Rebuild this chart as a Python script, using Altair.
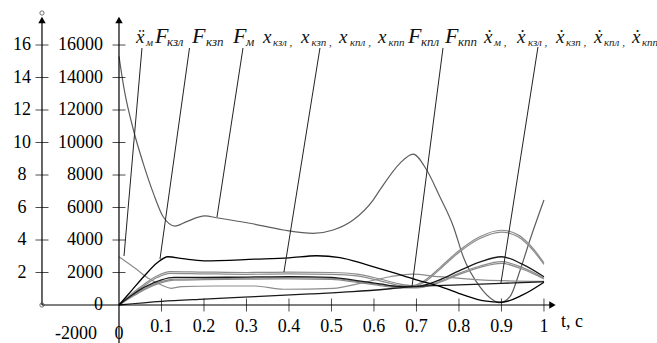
import altair as alt
import pandas as pd

# ---------------- values ----------------
# F_м (big grey curve)
T_FM = [0, 0.012, 0.034, 0.057, 0.081, 0.104, 0.132, 0.159, 0.202, 0.23, 0.308, 0.387, 0.457,
        0.504, 0.551, 0.598, 0.614, 0.661, 0.692, 0.724, 0.755, 0.787, 0.81, 0.849, 0.88, 0.896,
        0.92, 0.944, 0.967, 1.0]
V_FM = [15300, 13300, 10770, 8720, 6870, 5430, 4860, 5130, 5480, 5370, 5030, 4615, 4410,
        4615, 5230, 6460, 7080, 8720, 9290, 8310, 6665, 4820, 2970, 1130, 310, 140,
        510, 2150, 4000, 6460]
# ẍ_м (grey, starts high)
T_AM = [0, 0.038, 0.069, 0.1, 0.124, 0.147, 0.226, 0.32, 0.387, 0.504, 0.567, 0.638, 0.69,
        0.75, 0.85, 0.9, 1.0]
V_AM = [2970, 2260, 1640, 1230, 1030, 1130, 1170, 1170, 970, 1030, 1335, 1740, 1900,
        1750, 1550, 1500, 1450]
# F_кзл (bold black)
T_KZL = [0, 0.03, 0.06, 0.09, 0.115, 0.15, 0.2, 0.32, 0.4, 0.465, 0.52, 0.58, 0.638, 0.7,
         0.76, 0.81, 0.86, 0.9, 0.95, 1.0]
V_KZL = [0, 900, 1800, 2600, 2970, 2850, 2720, 2820, 2900, 3030, 2920, 2500, 2050, 1550,
         1100, 620, 250, 170, 620, 1400]
# F_кпл, F_кпп (double grey)
T_KP = [0, 0.03, 0.06, 0.09, 0.12, 0.2, 0.3, 0.4, 0.5, 0.56, 0.614, 0.66, 0.692, 0.724,
        0.755, 0.802, 0.849, 0.9, 0.94, 0.967, 1.0]
V_KPL = [0, 700, 1300, 1800, 2060, 2030, 2000, 2030, 2000, 1900, 1600, 1300, 1200, 1600,
         2300, 3385, 4200, 4600, 4300, 3690, 2600]
V_KPP = [0, 620, 1200, 1690, 1950, 1920, 1890, 1920, 1890, 1790, 1490, 1200, 1110, 1500,
         2200, 3280, 4090, 4490, 4190, 3580, 2500]
# x_кзл, x_кзп, x_кпл
T_X = [0, 0.03, 0.06, 0.1, 0.13, 0.2, 0.3, 0.4, 0.5, 0.56, 0.614, 0.66, 0.7, 0.75, 0.8,
       0.85, 0.9, 0.95, 1.0]
V_X1 = [0, 600, 1100, 1550, 1700, 1700, 1720, 1750, 1700, 1500, 1300, 1150, 1150, 1500,
        2100, 2650, 2970, 2500, 1740]
V_X2 = [0, 550, 1000, 1450, 1600, 1620, 1650, 1680, 1640, 1450, 1250, 1100, 1080, 1400,
        1950, 2400, 2665, 2300, 1650]
V_X3 = [0, 500, 950, 1380, 1530, 1560, 1590, 1610, 1580, 1400, 1200, 1060, 1050, 1350,
        1880, 2320, 2565, 2200, 1600]
# bottom black line
T_B = [0, 0.1, 0.2, 0.32, 0.45, 0.55, 0.638, 0.692, 0.8, 0.9, 1.0]
V_B = [0, 220, 360, 510, 680, 820, 1000, 1130, 1240, 1335, 1435]

SERIES = [
    ("F_м", T_FM, V_FM), ("ẍ_м", T_AM, V_AM), ("F_кпл", T_KP, V_KPL), ("F_кпп", T_KP, V_KPP),
    ("x_кзп", T_X, V_X2), ("x_кпл", T_X, V_X3), ("x_кзл", T_X, V_X1), ("ẋ", T_B, V_B),
    ("F_кзл", T_KZL, V_KZL),
]
S_COLORS = ["#5e5e5e", "#8c8c8c", "#8c8c8c", "#8c8c8c", "#8c8c8c", "#8c8c8c", "#1a1a1a", "#1a1a1a", "#000000"]
S_WIDTHS = [1.2, 1.3, 1.3, 1.3, 1.4, 1.4, 1.4, 1.2, 2.3]

# axes
Y_LABEL_VALUES = [-2000, 0, 2000, 4000, 6000, 8000, 10000, 12000, 14000, 16000]
Y_TICK_VALUES = [2000, 4000, 6000, 8000, 10000, 12000, 14000, 16000]
OUT_LABELS = [2, 4, 6, 8, 10, 12, 14, 16]
X_TICKS = [0.1, 0.2, 0.3, 0.4, 0.5, 0.6, 0.7, 0.8, 0.9, 1.0]
X_LABELS = ["0.1", "0.2", "0.3", "0.4", "0.5", "0.6", "0.7", "0.8", "0.9", "1"]

# legend labels
LEG_MAIN = ["x\u0308", "F", "F", "F", "x", "x", "x", "x", "F", "F",
            "x\u0307", "x\u0307", "x\u0307", "x\u0307", "x\u0307"]
LEG_KIND = ["x", "F", "F", "F", "x", "x", "x", "x", "F", "F", "x", "x", "x", "x", "x"]
LEG_SUB = ["м", "кзл", "кзп", "м", "кзл ,", "кзп ,", "кпл ,", "кпп", "кпл", "кпп",
           "м ,", "кзл ,", "кзп ,", "кпл ,", "кпп"]
LEG_T = [0.040, 0.0847, 0.1718, 0.2682, 0.3388, 0.4282, 0.5176, 0.6094, 0.680, 0.7671,
         0.8588, 0.9365, 1.0282, 1.1176, 1.2071]
LEG_SUB_T = [0.0635, 0.1129, 0.2047, 0.2988, 0.3624, 0.4529, 0.5435, 0.6341, 0.7106, 0.7976,
             0.8824, 0.9624, 1.0518, 1.1412, 1.2306]
# leader lines: label -> curve
LEAD_T1 = [0.0541, 0.1659, 0.2918, 0.4729, 0.7624, 0.9859]
LEAD_V1 = [15816, 15816, 15816, 15816, 15816, 15877]
LEAD_T2 = [0.0118, 0.0965, 0.2306, 0.3882, 0.6894, 0.8988]
LEAD_V2 = [3015, 2831, 5415, 2031, 1108, 1354]

# ---------------- layout helpers (scale geometry) ----------------
X_DOMAIN = [-0.28, 1.266]
Y_DOMAIN = [-2338, 18770]
T_OUT = -0.1812       # outer axis position
V_TOP = 17540         # arrow level
FONT = "'Liberation Serif', 'Times New Roman', serif"

xs = alt.Scale(domain=X_DOMAIN, nice=False, zero=False)
ys = alt.Scale(domain=Y_DOMAIN, nice=False, zero=False)


def X(f):
    return alt.X(f, type="quantitative", scale=xs, axis=None)


def Y(f):
    return alt.Y(f, type="quantitative", scale=ys, axis=None)


rows = []
for name, ts, vs in SERIES:
    for t, v in zip(ts, vs):
        rows.append({"s": name, "t": t, "v": v})
df = pd.DataFrame(rows)
names = [s[0] for s in SERIES]

lines = alt.Chart(df).mark_line(interpolate="monotone").encode(
    x=X("t"), y=Y("v"), detail="s:N",
    color=alt.Color("s:N", scale=alt.Scale(domain=names, range=S_COLORS), legend=None),
    strokeWidth=alt.StrokeWidth("s:N", scale=alt.Scale(domain=names, range=S_WIDTHS), legend=None),
)

leaders = alt.Chart(pd.DataFrame({"t1": LEAD_T1, "v1": LEAD_V1, "t2": LEAD_T2, "v2": LEAD_V2})
                    ).mark_rule(color="#222", strokeWidth=1).encode(
    x=X("t1"), y=Y("v1"), x2="t2:Q", y2="v2:Q")

axes_df = pd.DataFrame({
    "t1": [0, T_OUT, T_OUT],
    "v1": [Y_DOMAIN[0], 0, 0],
    "t2": [0, T_OUT, 1.02],
    "v2": [V_TOP, V_TOP, 0],
})
axis_lines = alt.Chart(axes_df).mark_rule(color="black", strokeWidth=1.2).encode(
    x=X("t1"), y=Y("v1"), x2="t2:Q", y2="v2:Q")

up_arrows = alt.Chart(pd.DataFrame({"t": [0, T_OUT], "v": [V_TOP, V_TOP]})).mark_point(
    shape="triangle-up", filled=True, color="black", size=55, opacity=1).encode(x=X("t"), y=Y("v"))
right_arrow = alt.Chart(pd.DataFrame({"t": [1.02], "v": [0]})).mark_point(
    shape="triangle-right", filled=True, color="black", size=55, opacity=1).encode(x=X("t"), y=Y("v"))
circles = alt.Chart(pd.DataFrame({"t": [T_OUT, T_OUT], "v": [0, 17970]})).mark_point(
    shape="circle", filled=False, color="#333", size=18, strokeWidth=1).encode(x=X("t"), y=Y("v"))

ytick_df = pd.DataFrame({"t": [0] * len(Y_TICK_VALUES) + [T_OUT] * len(Y_TICK_VALUES),
                         "v": Y_TICK_VALUES * 2})
yticks = alt.Chart(ytick_df).mark_tick(orient="horizontal", size=13, thickness=1, color="black").encode(
    x=X("t"), y=Y("v"))
xticks = alt.Chart(pd.DataFrame({"t": X_TICKS, "v": [0] * len(X_TICKS)})).mark_tick(
    orient="vertical", size=13, thickness=1, color="black").encode(x=X("t"), y=Y("v"))

ylab_df = pd.DataFrame({
    "t": [-0.052 if v < 0 else -0.0376 for v in Y_LABEL_VALUES],
    "v": [-1780 if v < 0 else v for v in Y_LABEL_VALUES],
    "txt": [str(v) for v in Y_LABEL_VALUES],
})
ylabels = alt.Chart(ylab_df).mark_text(font=FONT, fontSize=18, align="right", baseline="middle",
                                       color="black").encode(x=X("t"), y=Y("v"), text="txt:N")
olab_df = pd.DataFrame({"t": [-0.2282] * len(OUT_LABELS), "v": [o * 1000 for o in OUT_LABELS],
                        "txt": [str(o) for o in OUT_LABELS]})
olabels = alt.Chart(olab_df).mark_text(font=FONT, fontSize=18, align="center", baseline="middle",
                                       color="black").encode(x=X("t"), y=Y("v"), text="txt:N")
xlab_df = pd.DataFrame({"t": X_TICKS + [0], "v": [-1380] * len(X_TICKS) + [-1780],
                        "txt": X_LABELS + ["0"]})
xlabels = alt.Chart(xlab_df).mark_text(font=FONT, fontSize=18, align="center", baseline="middle",
                                       color="black").encode(x=X("t"), y=Y("v"), text="txt:N")
tc = alt.Chart(pd.DataFrame({"t": [1.04], "v": [-1050], "txt": ["t, c"]})).mark_text(
    font=FONT, fontSize=18, align="left", baseline="middle", color="black").encode(
    x=X("t"), y=Y("v"), text="txt:N")

leg_df = pd.DataFrame({"t": LEG_T, "v": [16123] * len(LEG_T), "txt": LEG_MAIN, "k": LEG_KIND})
leg_main = alt.Chart(leg_df).mark_text(font=FONT, fontStyle="italic", align="left",
                                       baseline="alphabetic", color="#111").encode(
    x=X("t"), y=Y("v"), text="txt:N",
    size=alt.Size("k:N", scale=alt.Scale(domain=["F", "x"], range=[22, 19]), legend=None))
sub_df = pd.DataFrame({"t": LEG_SUB_T, "v": [15939] * len(LEG_SUB_T), "txt": LEG_SUB, "k": LEG_KIND})
leg_sub = alt.Chart(sub_df).mark_text(font=FONT, fontStyle="italic", align="left",
                                      baseline="alphabetic", color="#222").encode(
    x=X("t"), y=Y("v"), text="txt:N",
    size=alt.Size("k:N", scale=alt.Scale(domain=["F", "x"], range=[13, 11]), legend=None))

chart = alt.layer(
    lines, leaders, axis_lines, up_arrows, right_arrow, circles, yticks, xticks,
    ylabels, olabels, xlabels, tc, leg_main, leg_sub,
).resolve_scale(size="independent").properties(
    width=657, height=343, autosize=alt.AutoSizeParams(type="none"), padding=0,
    background="white",
).configure_view(stroke=None)

chart.save("out.html", embed_options={"renderer": "svg", "actions": False})
